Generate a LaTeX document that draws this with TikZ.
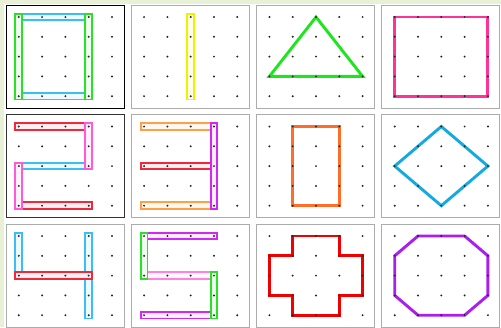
\documentclass[tikz,border=0pt]{standalone}
\usetikzlibrary{calc}
\definecolor{bgpale}{RGB}{232,240,214}
\definecolor{bandgreen}{RGB}{40,225,40}
\definecolor{bandblue}{RGB}{60,190,240}
\definecolor{bandyellow}{RGB}{240,240,0}
\definecolor{bandred}{RGB}{240,40,60}
\definecolor{bandpink}{RGB}{255,90,215}
\definecolor{bandorange}{RGB}{255,160,70}
\definecolor{bandpurple}{RGB}{210,40,240}
\definecolor{bandrose}{RGB}{255,130,220}
\definecolor{trigreen}{RGB}{30,230,30}
\definecolor{sqpink}{RGB}{255,50,150}
\definecolor{rectorange}{RGB}{255,110,40}
\definecolor{diamblue}{RGB}{20,170,225}
\definecolor{crossred}{RGB}{240,0,0}
\definecolor{octpurple}{RGB}{170,30,240}

\newcommand{\band}[3]{\draw[band, draw=#1, fill=#1!8] ($(#2)+(-3.4,-3.3)$) rectangle ($(#3)+(3.4,3.3)$);}

\begin{document}
\begin{tikzpicture}[x=1pt, y=-1pt,
    board/.style={draw=gray!65, fill=white, line width=0.9pt},
    band/.style={line width=1.9pt},
    outline/.style={line width=2.9pt, line join=miter}
]
    \fill[white] (0,0) rectangle (501,327);
    \fill[bgpale] (0,0) rectangle (501,4);
    \fill[bgpale] (0,0) rectangle (4,327);
    \useasboundingbox (0,0) rectangle (501,327);

    % boards and their pegs
    \foreach \c in {0,...,3} {
        \foreach \r in {0,1,2} {
            \draw[board] ({6+125.3*\c},{5+109.5*\r}) rectangle ++(118,103);
            \foreach \i in {0,...,4}
                \foreach \j in {0,...,4}
                    \coordinate (b\c\r-\i\j) at ({18.8+125.3*\c+23.3*\i},{17+109.5*\r+19.8*\j});
        }
    }
    \draw[board, draw=black] (6,5) rectangle ++(118,103);
    \draw[board, draw=black!80] (6,114.5) rectangle ++(118,103);

    % row 1
    \band{bandblue}{b00-00}{b00-30}
    \band{bandblue}{b00-04}{b00-34}
    \band{bandgreen}{b00-00}{b00-04}
    \band{bandgreen}{b00-30}{b00-34}

    \band{bandyellow}{b10-20}{b10-24}

    \draw[outline, trigreen] (b20-20) -- (b20-43) -- (b20-03) -- cycle;

    \draw[outline, sqpink] (b30-00) rectangle (b30-44);

    % row 2
    \band{bandred}{b01-00}{b01-30}
    \band{bandblue}{b01-02}{b01-32}
    \band{bandred}{b01-04}{b01-34}
    \band{bandpink}{b01-30}{b01-32}
    \band{bandpink}{b01-02}{b01-04}

    \band{bandorange}{b11-00}{b11-30}
    \band{bandred}{b11-02}{b11-32}
    \band{bandorange}{b11-04}{b11-34}
    \band{bandpurple}{b11-30}{b11-34}

    \draw[outline, rectorange] (b21-10) rectangle (b21-34);

    \draw[outline, diamblue] (b31-20) -- (b31-42) -- (b31-24) -- (b31-02) -- cycle;

    % row 3
    \band{bandblue}{b02-00}{b02-02}
    \band{bandblue}{b02-30}{b02-34}
    \band{bandred}{b02-02}{b02-32}

    \band{bandpurple}{b12-00}{b12-30}
    \band{bandrose}{b12-02}{b12-32}
    \band{bandpurple}{b12-04}{b12-34}
    \band{bandgreen}{b12-00}{b12-02}
    \band{bandgreen}{b12-32}{b12-34}

    \draw[outline, crossred] (b22-10) -- (b22-30) -- (b22-31) -- (b22-41) -- (b22-43) -- (b22-33)
        -- (b22-34) -- (b22-14) -- (b22-13) -- (b22-03) -- (b22-01) -- (b22-11) -- cycle;

    \draw[outline, octpurple] (b32-10) -- (b32-30) -- (b32-41) -- (b32-43) -- (b32-34) -- (b32-14)
        -- (b32-03) -- (b32-01) -- cycle;

    % pegs on top
    \foreach \c in {0,...,3}
        \foreach \r in {0,1,2}
            \foreach \i in {0,...,4}
                \foreach \j in {0,...,4}
                    \fill[black!85] (b\c\r-\i\j) circle (1.1pt);
\end{tikzpicture}
\end{document}
